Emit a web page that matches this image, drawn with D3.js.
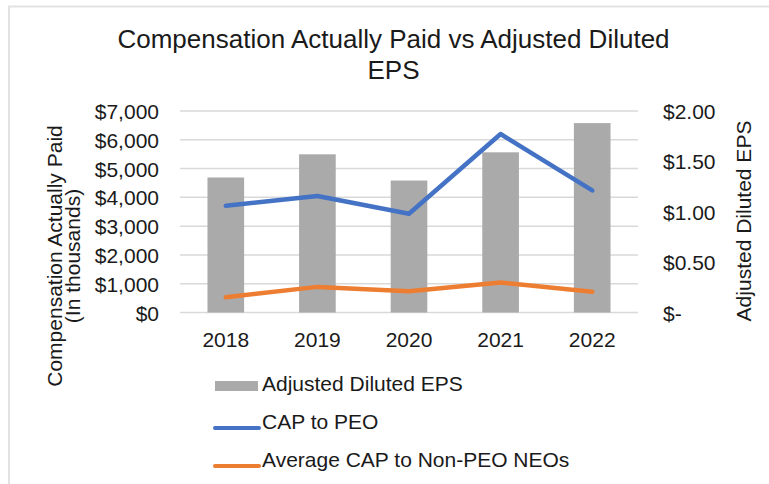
<!DOCTYPE html>
<html>
<head>
<meta charset="utf-8">
<script src="https://cdn.jsdelivr.net/npm/d3@7/dist/d3.min.js"></script>
<style>
  html, body { margin: 0; padding: 0; background: #fff; }
  svg text { font-family: "Liberation Sans", Arial, sans-serif; fill: #1a1a1a; }
</style>
</head>
<body>
<svg id="chart" width="769" height="484"></svg>
<script>
// data
const years = ["2018", "2019", "2020", "2021", "2022"];
const adjustedEps = [1.34, 1.57, 1.31, 1.59, 1.88];
const capToPeo = [3705, 4050, 3430, 6200, 4240];
const avgCapNonPeo = [530, 890, 740, 1040, 720];

const leftTicks = [0, 1000, 2000, 3000, 4000, 5000, 6000, 7000];
const rightTicks = [0, 0.5, 1.0, 1.5, 2.0];

const settings = {
  width: 769,
  height: 484,
  plotLeft: 180,
  plotRight: 638,
  plotTop: 111,
  plotBottom: 312.5,
  fontSize: 21
};

const svg = d3.select("#chart");

// light frame (top + left edges only, as in the source image)
svg.append("line")
  .attr("x1", 8).attr("x2", settings.width)
  .attr("y1", 6.5).attr("y2", 6.5)
  .attr("stroke", "#e2e2e2").attr("stroke-width", 2);
svg.append("line")
  .attr("x1", 9).attr("x2", 9)
  .attr("y1", 6).attr("y2", settings.height)
  .attr("stroke", "#e2e2e2").attr("stroke-width", 2);

const xScale = d3.scaleBand()
  .domain(years)
  .range([settings.plotLeft, settings.plotRight])
  .paddingInner(0.6)
  .paddingOuter(0.3);

const yLeft = d3.scaleLinear()
  .domain([0, 7000])
  .range([settings.plotBottom, settings.plotTop]);

const yRight = d3.scaleLinear()
  .domain([0, 2])
  .range([settings.plotBottom, settings.plotTop]);

// gridlines
svg.append("g")
  .attr("class", "grid")
  .selectAll("line")
  .data(leftTicks)
  .join("line")
  .attr("x1", settings.plotLeft)
  .attr("x2", settings.plotRight)
  .attr("y1", d => yLeft(d))
  .attr("y2", d => yLeft(d))
  .attr("stroke", "#d9d9d9")
  .attr("stroke-width", 1.5);

// left axis
const leftAxis = svg.append("g")
  .attr("transform", `translate(${settings.plotLeft - 21},0)`)
  .call(d3.axisLeft(yLeft).tickValues(leftTicks).tickSize(0)
    .tickFormat(d => "$" + d3.format(",")(d)));
leftAxis.select(".domain").remove();
leftAxis.selectAll("text")
  .attr("x", 0)
  .attr("dy", "0.36em")
  .style("font-size", settings.fontSize + "px")
  .style("font-family", "'Liberation Sans', Arial, sans-serif")
  .attr("fill", "#1a1a1a");

// right axis
const rightAxis = svg.append("g")
  .attr("transform", `translate(663,0)`)
  .call(d3.axisRight(yRight).tickValues(rightTicks).tickSize(0)
    .tickFormat(d => d === 0 ? "$-" : "$" + d3.format(".2f")(d)));
rightAxis.select(".domain").remove();
rightAxis.selectAll("text")
  .attr("x", 0)
  .attr("dy", "0.36em")
  .style("font-size", settings.fontSize + "px")
  .style("font-family", "'Liberation Sans', Arial, sans-serif")
  .attr("fill", "#1a1a1a");

// bottom axis labels
const bottomAxis = svg.append("g")
  .attr("transform", `translate(0,${settings.plotBottom})`)
  .call(d3.axisBottom(xScale).tickSize(0));
bottomAxis.select(".domain").remove();
bottomAxis.selectAll("text")
  .attr("y", 34)
  .attr("dy", 0)
  .style("font-size", settings.fontSize + "px")
  .style("font-family", "'Liberation Sans', Arial, sans-serif")
  .attr("fill", "#1a1a1a");

// bars (right axis)
svg.append("g")
  .selectAll("rect")
  .data(years.map((y, i) => ({ year: y, value: adjustedEps[i] })))
  .join("rect")
  .attr("x", d => xScale(d.year))
  .attr("width", xScale.bandwidth())
  .attr("y", d => yRight(d.value))
  .attr("height", d => yRight(0) - yRight(d.value))
  .attr("fill", "#aaaaaa");

// lines (left axis)
const lineGen = d3.line()
  .x(d => xScale(d.year) + xScale.bandwidth() / 2)
  .y(d => yLeft(d.value));

const lineSeries = [
  { name: "CAP to PEO", values: capToPeo, color: "#4472c4" },
  { name: "Average CAP to Non-PEO NEOs", values: avgCapNonPeo, color: "#ed7d31" }
];

lineSeries.forEach(s => {
  svg.append("path")
    .datum(years.map((y, i) => ({ year: y, value: s.values[i] })))
    .attr("d", lineGen)
    .attr("fill", "none")
    .attr("stroke", s.color)
    .attr("stroke-width", 4.5)
    .attr("stroke-linejoin", "round")
    .attr("stroke-linecap", "round");
});

// title
const title = svg.append("text")
  .attr("x", 393.5)
  .attr("y", 48)
  .attr("text-anchor", "middle")
  .style("font-size", "26px");
title.append("tspan").attr("x", 393.5).attr("y", 48)
  .text("Compensation Actually Paid vs Adjusted Diluted");
title.append("tspan").attr("x", 393.5).attr("y", 79)
  .text("EPS");

// left axis title (sits a bit below the plot centre in the source)
const leftTitle = svg.append("text")
  .attr("transform", "translate(0,256) rotate(-90)")
  .attr("text-anchor", "middle")
  .style("font-size", settings.fontSize + "px");
leftTitle.append("tspan").attr("x", 0).attr("y", 62).text("Compensation  Actually Paid");
leftTitle.append("tspan").attr("x", 0).attr("y", 80).text("(In thousands)");

// right axis title
svg.append("text")
  .attr("transform", "translate(751,221) rotate(-90)")
  .attr("text-anchor", "middle")
  .style("font-size", settings.fontSize + "px")
  .text("Adjusted Diluted EPS");

// legend
const legend = svg.append("g").attr("transform", "translate(215,0)");
const legendRows = [
  { label: "Adjusted Diluted EPS", type: "bar", color: "#aaaaaa", baseline: 391 },
  { label: "CAP to PEO", type: "line", color: "#4472c4", baseline: 429 },
  { label: "Average CAP to Non-PEO NEOs", type: "line", color: "#ed7d31", baseline: 467 }
];
legendRows.forEach(r => {
  if (r.type === "bar") {
    legend.append("rect")
      .attr("x", 0).attr("y", r.baseline - 10)
      .attr("width", 43).attr("height", 10)
      .attr("fill", r.color);
  } else {
    legend.append("line")
      .attr("x1", 0).attr("x2", 44)
      .attr("y1", r.baseline - 1).attr("y2", r.baseline - 1)
      .attr("stroke", r.color)
      .attr("stroke-width", 4)
      .attr("stroke-linecap", "round");
  }
  legend.append("text")
    .attr("x", 47)
    .attr("y", r.baseline)
    .style("font-size", settings.fontSize + "px")
    .text(r.label);
});
</script>
</body>
</html>
